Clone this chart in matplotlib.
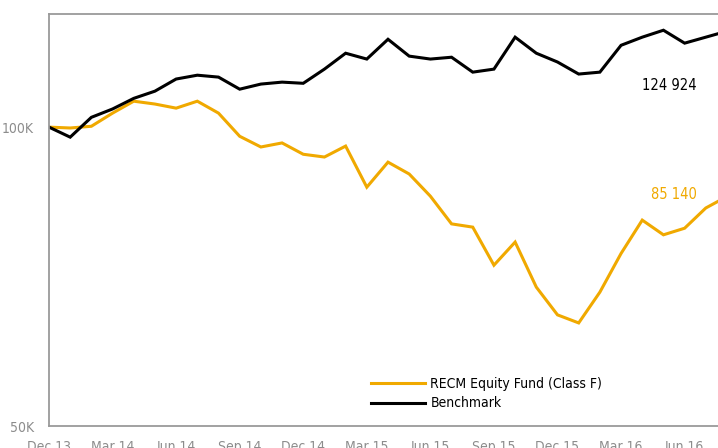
"""Growth of 100K: RECM Equity Fund (Class F) vs benchmark, Dec 13 - Aug 16."""

import matplotlib
matplotlib.use("Agg")
import matplotlib.pyplot as plt
from matplotlib.font_manager import FontProperties
from matplotlib.ticker import FixedLocator, NullLocator

plt.rcParams["font.family"] = ["Liberation Sans Narrow", "DejaVu Sans"]
plt.rcParams["font.stretch"] = "condensed"

# monthly values, Dec 13 .. Aug 16
months = ["Dec 13", "Jan 14", "Feb 14", "Mar 14", "Apr 14", "May 14", "Jun 14", "Jul 14",
          "Aug 14", "Sep 14", "Oct 14", "Nov 14", "Dec 14", "Jan 15", "Feb 15", "Mar 15",
          "Apr 15", "May 15", "Jun 15", "Jul 15", "Aug 15", "Sep 15", "Oct 15", "Nov 15",
          "Dec 15", "Jan 16", "Feb 16", "Mar 16", "Apr 16", "May 16", "Jun 16", "Jul 16",
          "Aug 16"]
fund = [100000, 99800, 100200, 103300, 106200, 105500, 104500, 106200, 103300, 97900,
        95500, 96400, 93900, 93300, 95700, 87000, 92200, 89700, 85200, 79900, 79300,
        72600, 76600, 69000, 64700, 63500, 68200, 74600, 80600, 77900, 79100, 82900,
        85140]
benchmark = [100000, 97700, 102300, 104300, 106900, 108700, 111800, 112800, 112300, 109200,
             110500, 111000, 110700, 114400, 118700, 117100, 122600, 117900, 117100, 117600,
             113600, 114400, 123200, 118700, 116300, 113100, 113600, 120900, 123200, 125200,
             121500, 123200, 124924]

FUND_COLOR = "#F0A900"
GREY = "#9a9a9a"

fig = plt.figure(figsize=(7.18, 4.48), dpi=100)
# axes run past the right edge of the picture, as in the original crop
ax = fig.add_axes([49 / 718, 22 / 448, 678 / 718, 412 / 448])

x = range(len(months))
ax.plot(x, fund, color=FUND_COLOR, lw=2.2, label="RECM Equity Fund (Class F)", solid_joinstyle="miter")
ax.plot(x, benchmark, color="black", lw=2.2, label="Benchmark", solid_joinstyle="miter")

ax.set_yscale("log")
ax.set_ylim(50000, 130000)
ax.set_xlim(0, len(months) - 1)
ax.yaxis.set_major_locator(FixedLocator([50000, 100000]))
ax.yaxis.set_minor_locator(NullLocator())
ax.set_yticklabels(["50K", "100K"])
ax.set_xticks(range(0, len(months), 3))
ax.set_xticklabels(months[::3])
ax.tick_params(length=0, colors="#8c8c8c", labelsize=10)
ax.tick_params(axis="y", pad=11)
ax.tick_params(axis="x", pad=10)

for side in ("left", "top", "bottom"):
    ax.spines[side].set_color(GREY)
    ax.spines[side].set_linewidth(1.3)
ax.spines["right"].set_visible(False)

fmt = lambda v: f"{v:,.0f}".replace(",", " ")
ax.annotate(fmt(benchmark[-1]), xy=(len(months) - 1, benchmark[-1]), xytext=(-22, -39),
            textcoords="offset points", ha="right", va="center", fontsize=10.5, color="black")
ax.annotate(fmt(fund[-1]), xy=(len(months) - 1, fund[-1]), xytext=(-22, 1.5),
            textcoords="offset points", ha="right", va="center", fontsize=10.5, color=FUND_COLOR)

legend_font = FontProperties(family="DejaVu Sans", stretch="condensed", size=10)
ax.legend(loc="lower left", bbox_to_anchor=(365 / 718, 32 / 448), bbox_transform=fig.transFigure,
          frameon=False, prop=legend_font, handlelength=3.9,
          handletextpad=0.4, labelspacing=0.4, borderaxespad=0)

fig.savefig("out.png", dpi=100)
